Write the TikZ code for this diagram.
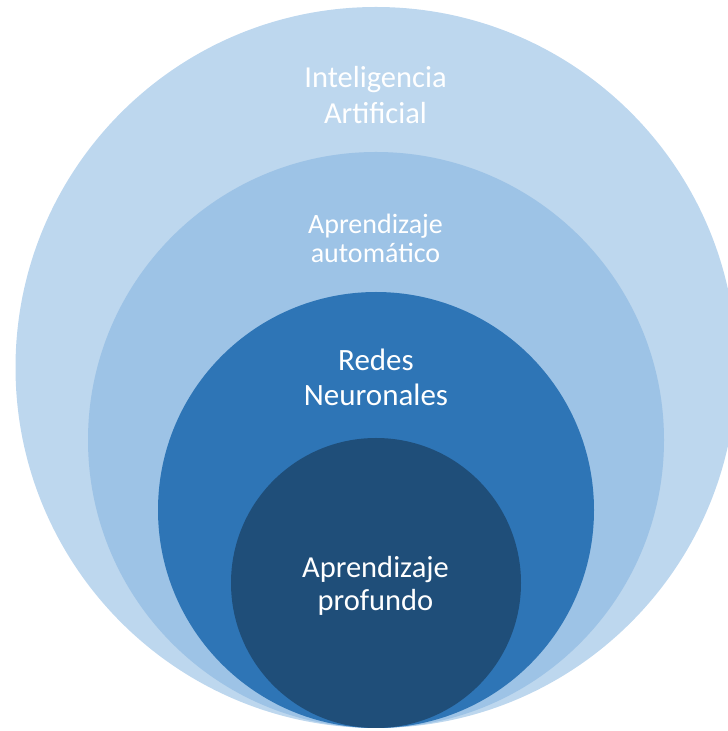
\documentclass[tikz,border=0pt]{standalone}
\usepackage{fontspec}
\setmainfont{Carlito}
\definecolor{cIA}{HTML}{BDD7EE}
\definecolor{cML}{HTML}{9DC3E6}
\definecolor{cNN}{HTML}{2E75B6}
\definecolor{cDL}{HTML}{1F4E79}
\tikzset{
  ring/.style={circle, draw=none, inner sep=0pt, minimum size=#1},
  lbl/.style={text=white, align=center, anchor=base, inner sep=0pt},
}
\begin{document}
\begin{tikzpicture}[x=1pt,y=1pt]
  \useasboundingbox (0,0) rectangle (728,731);
  \clip (0,0) rectangle (728,731);
  \node[ring=721pt, fill=cIA] (ia) at (376,363.5) {};
  \node[ring=576pt, fill=cML] (ml) at (376,291) {};
  \node[ring=436pt, fill=cNN] (nn) at (376,221) {};
  \node[ring=290pt, fill=cDL] (dl) at (376,148) {};
  \node[lbl, font=\fontsize{30.5}{36}\selectfont] (tia) at (375.5,607) {Inteligencia\\Artificial};
  \node[lbl, font=\fontsize{28}{29}\selectfont] (tml) at (375.5,468) {Aprendizaje\\automático};
  \node[lbl, font=\fontsize{31}{35}\selectfont] (tnn) at (376,325.3) {Redes\\Neuronales};
  \node[lbl, font=\fontsize{30.5}{33}\selectfont] (tdl) at (375.5,120) {Aprendizaje\\profundo};
\end{tikzpicture}
\end{document}
